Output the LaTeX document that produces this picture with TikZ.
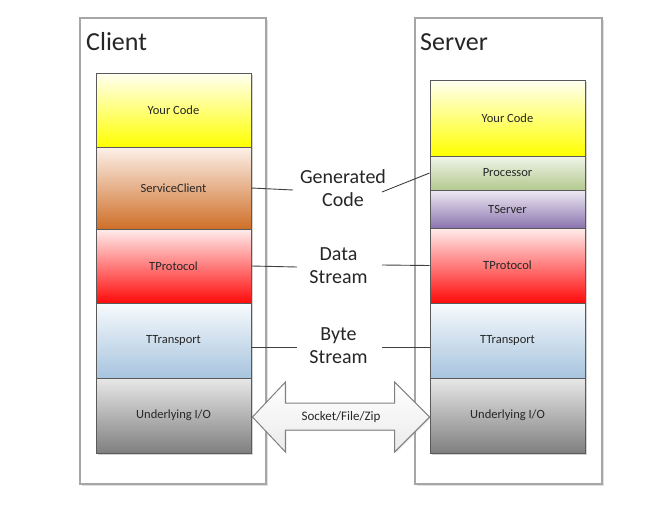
\documentclass[tikz,border=0pt]{standalone}
\usepackage{fontspec}
\setmainfont{Carlito}
\usetikzlibrary{shadows,calc}
\definecolor{txt}{HTML}{262626}
\definecolor{boxline}{HTML}{5A5A5A}
\definecolor{outline}{HTML}{A6A6A6}
\definecolor{conncol}{HTML}{404040}
\definecolor{yTop}{HTML}{FFFFF2}\definecolor{yBot}{HTML}{FFFF00}
\definecolor{oTop}{HTML}{FCF1EA}\definecolor{oBot}{HTML}{CF6F28}
\definecolor{rTop}{HTML}{FFEDED}\definecolor{rBot}{HTML}{FF0A0A}
\definecolor{bTop}{HTML}{F7FAFD}\definecolor{bBot}{HTML}{A7C4DE}
\definecolor{gTop}{HTML}{E8E8E8}\definecolor{gBot}{HTML}{7F7F7F}
\definecolor{pgTop}{HTML}{F1F5EA}\definecolor{pgBot}{HTML}{B3C98F}
\definecolor{puTop}{HTML}{EEEAF4}\definecolor{puBot}{HTML}{8B74AE}
\tikzset{
  outerbox/.style={draw=outline, line width=1.3pt, fill=white, inner sep=0pt,
    drop shadow={shadow xshift=1.5pt, shadow yshift=-1.5pt, opacity=0.25}},
  layer/.style={draw=boxline, line width=0.9pt, minimum width=155pt, inner sep=0pt,
    font=\fontsize{12.5}{14}\selectfont, text=txt,
    drop shadow={shadow xshift=1.5pt, shadow yshift=-1.5pt, opacity=0.35}},
  titletext/.style={font=\fontsize{26}{30}\selectfont, text=txt, inner sep=0pt},
  midtext/.style={font=\fontsize{20}{23}\selectfont, text=txt, align=center, inner sep=0pt},
  conn/.style={draw=conncol, line width=0.9pt},
  bigarrow/.style={draw=gray, line width=1pt, top color=white, bottom color=black!8,
    drop shadow={shadow xshift=1.2pt, shadow yshift=-1.2pt, opacity=0.2}}
}
\begin{document}
\begin{tikzpicture}[x=1pt,y=-1pt]
\useasboundingbox (0,0) rectangle (665,517);
% outer containers
\node[outerbox, minimum width=186pt, minimum height=466pt] (client) at (173,251) {};
\node[outerbox, minimum width=187pt, minimum height=466pt] (server) at (508.5,251) {};
\node[titletext, anchor=base west] (ctitle) at (86,50.5) {Client};
\node[titletext, anchor=base west] (stitle) at (420,50.5) {Server};
% client layers
\node[layer, minimum height=74pt, top color=yTop, bottom color=yBot] (cyc) at (173.5,110) {Your Code};
\node[layer, minimum height=82pt, top color=oTop, bottom color=oBot] (csc) at (173.5,188) {ServiceClient};
\node[layer, minimum height=74pt, top color=rTop, bottom color=rBot] (cproto) at (173.5,266) {TProtocol};
\node[layer, minimum height=75pt, top color=bTop, bottom color=bBot] (ctrans) at (173.5,340.5) {TTransport};
\node[layer, minimum height=75pt, top color=gTop, bottom color=gBot] (cio) at (173.5,415.5) {Underlying I/O};
% server layers
\node[layer, minimum height=76pt, top color=yTop, bottom color=yBot] (syc) at (507.5,118) {Your Code};
\node[layer, minimum height=34pt, top color=pgTop, bottom color=pgBot] (sproc) at (507.5,173) {Processor};
\node[layer, minimum height=38pt, top color=puTop, bottom color=puBot] (sserv) at (507.5,209) {TServer};
\node[layer, minimum height=75pt, top color=rTop, bottom color=rBot] (sproto) at (507.5,265.5) {TProtocol};
\node[layer, minimum height=75pt, top color=bTop, bottom color=bBot] (strans) at (507.5,340.5) {TTransport};
\node[layer, minimum height=75pt, top color=gTop, bottom color=gBot] (sio) at (507.5,415.5) {Underlying I/O};
% middle labels
\node[midtext] (gc) at (343,188.5) {Generated\\Code};
\node[midtext] (ds) at (338.5,266) {Data\\Stream};
\node[midtext] (bs) at (338.5,346) {Byte\\Stream};
% connector ends
\coordinate (g1) at (293,190);
\coordinate (g2) at (382,192);
\coordinate (d1) at (297,267);
\coordinate (d2) at (382,265);
\coordinate (b1) at (297,347);
\coordinate (b2) at (382,347);
\draw[conn] (csc.east) -- (g1);
\draw[conn] (sproc.west) -- (g2);
\draw[conn] (cproto.east) -- (d1);
\draw[conn] (sproto.west) -- (d2);
\draw[conn] (ctrans.east |- b1) -- (b1);
\draw[conn] (strans.west |- b2) -- (b2);
% double arrow between the I/O layers
\coordinate (aL) at ($(cio.east)+(1,1.5)$);
\coordinate (aR) at ($(sio.west)+(0,1.5)$);
\draw[bigarrow] (aL) -- ++(33,-35) -- ++(0,21) -- ($(aR)+(-35,-14)$) -- ++(0,-21) -- (aR)
  -- ++(-35,35) -- ++(0,-22) -- ($(aL)+(33,13)$) -- ++(0,22) -- cycle;
\node[font=\fontsize{13}{15}\selectfont, text=txt] (sfz) at ($(aL)!0.5!(aR)$) {Socket/File/Zip};
\end{tikzpicture}
\end{document}
